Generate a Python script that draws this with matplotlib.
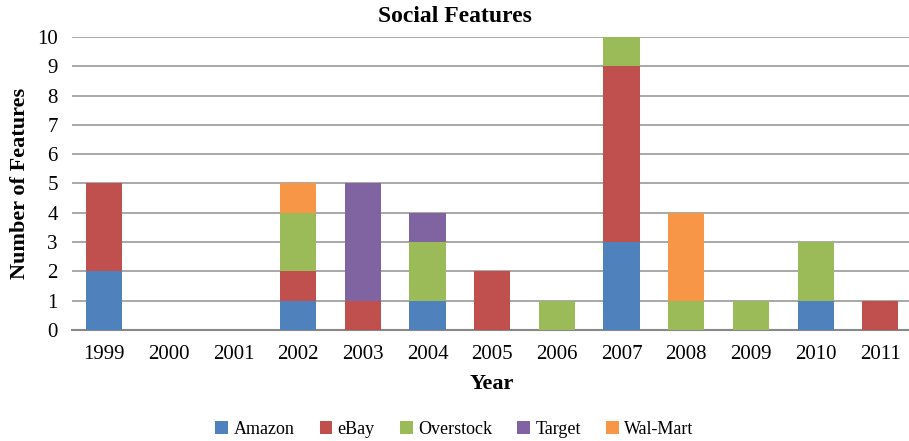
import numpy as np
import matplotlib.pyplot as plt

plt.rcParams['font.family'] = ['Liberation Serif', 'DejaVu Serif']

# Data
years = ['1999', '2000', '2001', '2002', '2003', '2004', '2005',
         '2006', '2007', '2008', '2009', '2010', '2011']
amazon = [2, 0, 0, 1, 0, 1, 0, 0, 3, 0, 0, 1, 0]
ebay = [3, 0, 0, 1, 1, 0, 2, 0, 6, 0, 0, 0, 1]
overstock = [0, 0, 0, 2, 0, 2, 0, 1, 1, 1, 1, 2, 0]
target = [0, 0, 0, 0, 4, 1, 0, 0, 0, 0, 0, 0, 0]
walmart = [0, 0, 0, 1, 0, 0, 0, 0, 0, 3, 0, 0, 0]

series = [('Amazon', amazon, '#4F81BD'),
          ('eBay', ebay, '#C0504D'),
          ('Overstock', overstock, '#9BBB59'),
          ('Target', target, '#8064A2'),
          ('Wal-Mart', walmart, '#F79646')]

fig = plt.figure(figsize=(9.09, 4.41), dpi=100)
ax = fig.add_axes([0.079, 0.252, 0.925, 0.664])

x = np.arange(len(years))
bottom = np.zeros(len(years))
for name, vals, color in series:
    vals = np.array(vals, dtype=float)
    ax.bar(x, vals, width=0.56, bottom=bottom, color=color, label=name, zorder=3)
    bottom += vals

ax.set_xlim(-0.5, len(years) - 0.5)
ax.set_ylim(0, 10)
ax.set_yticks(range(0, 11))
ax.set_xticks(x)
ax.set_xticklabels(years)
ax.tick_params(axis='both', length=0, labelsize=15)
ax.tick_params(axis='x', pad=11)
ax.tick_params(axis='y', pad=10)
ax.yaxis.grid(True, color='#999999', linewidth=1.2, zorder=0)
for s in ['top', 'right', 'left']:
    ax.spines[s].set_visible(False)
ax.spines['bottom'].set_color('#888888')
ax.spines['bottom'].set_linewidth(1.5)

fig.text(0.5, 0.962, 'Social Features', ha='center', va='center',
         fontsize=17, fontweight='bold')
ax.set_xlabel('Year', fontsize=16, fontweight='bold', labelpad=7)
ax.set_ylabel('Number of Features', fontsize=16, fontweight='bold', labelpad=5)

fig.legend(loc='center', bbox_to_anchor=(0.5, 0.027), ncol=5, frameon=False,
           fontsize=13, handlelength=0.7, handleheight=0.7, handletextpad=0.3,
           columnspacing=1.4)

fig.savefig('out.png', dpi=100)
